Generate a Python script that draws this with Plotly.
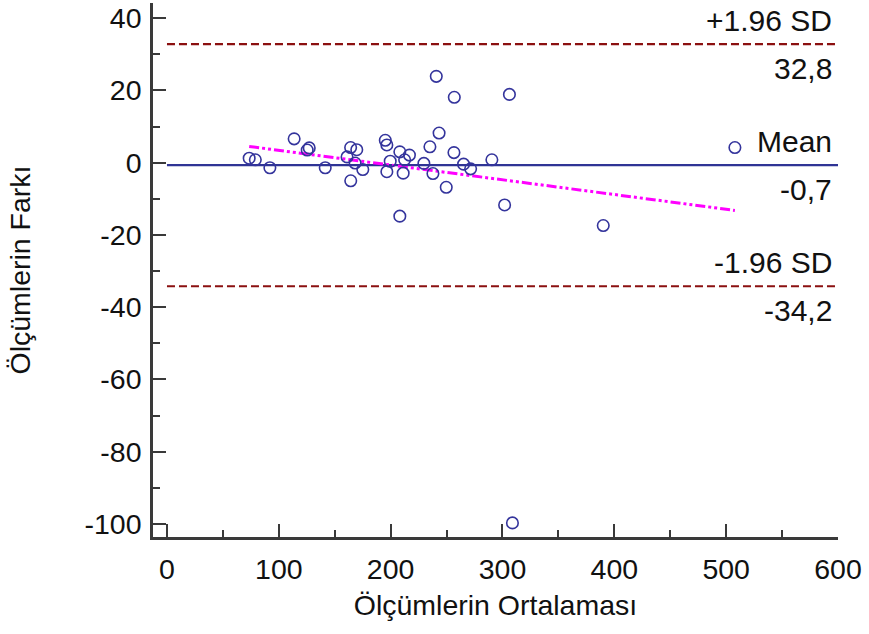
import plotly.graph_objects as go

# Data: averages (x) and differences (y)
avg = [73.5, 79.0, 92.0, 113.7, 125.4, 127.2, 141.5, 164.2, 169.7, 161.0, 168.2, 175.1, 164.3,
       195.2, 196.6, 208.2, 216.8, 199.6, 212.5, 196.6, 211.2, 243.3, 235.1, 229.7, 237.8,
       256.6, 265.2, 271.5, 290.5, 249.7, 301.9, 208.2, 240.8, 256.9, 306.2, 390.1, 507.8, 308.9]
diff = [1.25, 0.8, -1.4, 6.6, 3.5, 4.1, -1.4, 4.2, 3.6, 1.6, -0.1, -1.9, -5.0,
        6.2, 4.9, 3.0, 2.1, 0.4, 0.8, -2.5, -2.9, 8.2, 4.4, -0.2, -3.0,
        2.8, -0.4, -1.7, 0.8, -6.8, -11.7, -14.8, 23.9, 18.1, 18.9, -17.4, 4.2, -99.7]

mean_diff = -0.7
upper_loa = 32.8
lower_loa = -34.2
line_x = [0, 600]
reg_x = [73.5, 507.8]
reg_y = [4.5, -13.2]

x_ticks = [0, 100, 200, 300, 400, 500, 600]
y_ticks = [40, 20, 0, -20, -40, -60, -80, -100]

FONT = "Liberation Sans, Arial, sans-serif"
FS = 28.5
FS_ANN = 30
pt_color = "#34349C"

fig = go.Figure()
fig.add_trace(go.Scatter(x=line_x, y=[upper_loa] * 2, mode="lines",
                         line=dict(color="#8B1010", width=2.2, dash="8px,4px"), hoverinfo="skip"))
fig.add_trace(go.Scatter(x=line_x, y=[lower_loa] * 2, mode="lines",
                         line=dict(color="#8B1010", width=2.2, dash="8px,4px"), hoverinfo="skip"))
fig.add_trace(go.Scatter(x=line_x, y=[mean_diff] * 2, mode="lines",
                         line=dict(color="#2F3495", width=2.3), hoverinfo="skip"))
fig.add_trace(go.Scatter(x=reg_x, y=reg_y, mode="lines",
                         line=dict(color="#FF00FF", width=3, dash="10px,3px,3px,3px,3px,3px"),
                         hoverinfo="skip"))
fig.add_trace(go.Scatter(x=avg, y=diff, mode="markers",
                         marker=dict(symbol="circle-open", size=11.5, color=pt_color,
                                     line=dict(width=1.6, color=pt_color))))

ann = [("+1.96 SD", upper_loa, 24), ("32,8", upper_loa, -24),
       ("Mean", mean_diff, 24), ("-0,7", mean_diff, -24),
       ("-1.96 SD", lower_loa, 24), ("-34,2", lower_loa, -24)]
for txt, yv, sh in ann:
    fig.add_annotation(x=600, y=yv, text=txt, showarrow=False, xanchor="right", yanchor="middle",
                       xshift=-4, yshift=sh, font=dict(family=FONT, size=FS_ANN, color="#111111"))

axis_common = dict(showline=True, linecolor="#3A3A3A", linewidth=2.5, ticks="inside",
                   tickcolor="#3A3A3A", tickwidth=2, ticklen=13, showgrid=False, zeroline=False,
                   tickfont=dict(family=FONT, size=FS, color="#111111"))

fig.update_layout(
    width=869, height=634,
    margin=dict(l=153, r=31, t=3, b=97),
    paper_bgcolor="white", plot_bgcolor="white",
    showlegend=False,
    font=dict(family=FONT, size=FS, color="#111111"),
    xaxis=dict(range=[-12.5, 600], tickvals=x_ticks, ticktext=[str(v) for v in x_ticks],
               minor=dict(ticks="inside", ticklen=7, tickwidth=1.5, tickcolor="#3A3A3A", dtick=50,
                          tick0=0, showgrid=False),
               title=dict(text="Ölçümlerin Ortalaması", font=dict(family=FONT, size=FS), standoff=12),
               ticklabelstandoff=5,
               **axis_common),
    yaxis=dict(range=[-103.6, 44.2], tickvals=y_ticks, ticktext=[str(v) for v in y_ticks],
               minor=dict(ticks="inside", ticklen=7, tickwidth=1.5, tickcolor="#3A3A3A", dtick=10,
                          tick0=0, showgrid=False),
               title=dict(text="Ölçümlerin Farkı", font=dict(family=FONT, size=FS), standoff=46),
               ticklabelstandoff=3,
               **axis_common),
)

fig.write_html("out.html")
